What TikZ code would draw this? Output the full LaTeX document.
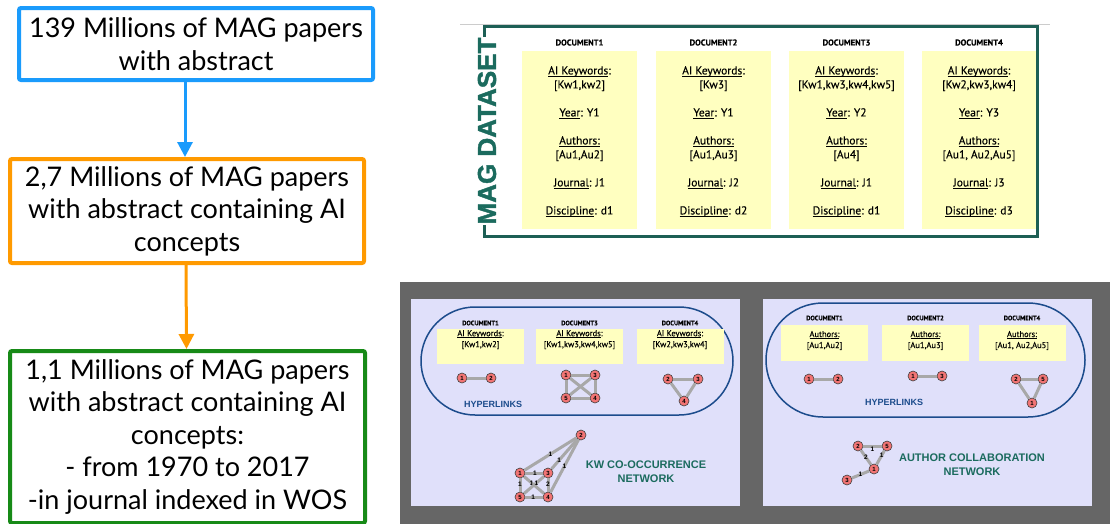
\documentclass[tikz,border=0pt]{standalone}
\usepackage{fontspec}
\setmainfont{Lato}
\newfontfamily\hfont{Liberation Sans}
\newfontfamily\magfont[BoldFeatures={FakeBold=1.6}]{Liberation Sans}
\newfontfamily\dfont[FakeBold=0.25]{PT Sans}
\newcommand{\myul}[1]{\underline{\smash{#1}}}
\usetikzlibrary{arrows.meta}
\definecolor{myblue}{HTML}{1A9BFC}
\definecolor{myorange}{HTML}{FF9A00}
\definecolor{mygreen}{HTML}{178A17}
\definecolor{tealframe}{HTML}{1D5F55}
\definecolor{tealtext}{HTML}{1B6B5E}
\definecolor{yel}{HTML}{FFFFC0}
\definecolor{lav}{HTML}{E0E0FA}
\definecolor{darkbg}{HTML}{666666}
\definecolor{hlblue}{HTML}{1C4C8C}
\definecolor{nodered}{HTML}{F27474}
\definecolor{edgegray}{HTML}{A8A8A8}
\begin{document}
\begin{tikzpicture}[x=1pt,y=-1pt,
  flowbox/.style={draw, line width=4pt, rounded corners=2pt, align=center, inner sep=0pt,
    font=\fontsize{27}{32.5}\selectfont},
  flowarrow/.style={line width=3pt, -{Triangle[length=15pt,width=15pt]}},
  docHead/.style={font=\dfont\bfseries\fontsize{8.5}{8.5}\selectfont, inner sep=0pt},
  colbox/.style={fill=yel, minimum width=115pt, minimum height=178pt, inner sep=0pt},
  coltext/.style={align=center, inner sep=0pt, font=\dfont\fontsize{11.5}{14}\selectfont},
  smallHead/.style={font=\dfont\bfseries\fontsize{6.5}{6.5}\selectfont, inner sep=0pt},
  smallbox/.style={fill=yel, minimum width=87pt, minimum height=35pt, inner sep=0pt},
  smalltext/.style={align=center, font=\dfont\fontsize{8.5}{11}\selectfont, inner sep=0pt},
  gn/.style={circle, draw=black!75, line width=0.6pt, fill=nodered, minimum size=10pt, inner sep=0pt,
    font=\hfont\bfseries\fontsize{6}{6}\selectfont},
  ge/.style={draw=edgegray, line width=3pt},
  elab/.style={font=\hfont\bfseries\fontsize{6.5}{6.5}\selectfont, inner sep=0pt},
  hyper/.style={font=\hfont\bfseries\fontsize{9}{9}\selectfont, text=hlblue, inner sep=0pt},
  netlab/.style={font=\hfont\bfseries\fontsize{11}{14}\selectfont, text=tealtext, align=center, inner sep=0pt},
  stadium/.style={draw=hlblue, line width=1.5pt}]
\useasboundingbox (0,0) rectangle (1116,523);
\fill[white] (0,0) rectangle (1116,523);

% ---------------- left flow ----------------
\node[flowbox, draw=myblue, minimum width=354pt, minimum height=72pt] (b1) at (196,44)
  {139 Millions of MAG papers\\with abstract};
\node[flowbox, draw=myorange, minimum width=354pt, minimum height=104pt] (b2) at (187,211)
  {2,7 Millions of MAG papers\\with abstract containing AI\\concepts};
\node[flowbox, draw=mygreen, minimum width=355pt, minimum height=172pt] (b3) at (187.5,437)
  {1,1 Millions of MAG papers\\with abstract containing AI\\concepts:\\- from 1970 to 2017\\-in journal indexed in WOS};
\draw[flowarrow, myblue] ([xshift=-11pt]b1.south) -- ([xshift=-2pt]b2.north);
\draw[flowarrow, myorange] ([xshift=-1pt]b2.south) -- ([xshift=-1pt]b3.north);

% ---------------- MAG dataset ----------------
\draw[black!20, line width=0.8pt] (460,24.5) -- (1050,24.5);
\node[colbox] (c1) at (579.5,140) {};
\node[colbox] (c2) at (713.5,140) {};
\node[colbox] (c3) at (846.5,140) {};
\node[colbox] (c4) at (979,140) {};
\node[coltext] (ct1) at (579.5,142.5) {\myul{AI Keywords}:\\{[Kw1,kw2]}\\[14pt]\myul{Year}: Y1\\[14pt]\myul{Authors:}\\{[Au1,Au2]}\\[14pt]\myul{Journal}: J1\\[14pt]\myul{Discipline}: d1};
\node[coltext] (ct2) at (713.5,142.5) {\myul{AI Keywords}:\\{[Kw3]}\\[14pt]\myul{Year}: Y1\\[14pt]\myul{Authors:}\\{[Au1,Au3]}\\[14pt]\myul{Journal}: J2\\[14pt]\myul{Discipline}: d2};
\node[coltext] (ct3) at (846.5,142.5) {\myul{AI Keywords}:\\{[Kw1,kw3,kw4,kw5]}\\[14pt]\myul{Year}: Y2\\[14pt]\myul{Authors:}\\{[Au4]}\\[14pt]\myul{Journal}: J1\\[14pt]\myul{Discipline}: d1};
\node[coltext] (ct4) at (979,142.5) {\myul{AI Keywords}:\\{[Kw2,kw3,kw4]}\\[14pt]\myul{Year}: Y3\\[14pt]\myul{Authors:}\\{[Au1, Au2,Au5]}\\[14pt]\myul{Journal}: J3\\[14pt]\myul{Discipline}: d3};
\node[docHead] (dh1) at (579.5,42.5) {DOCUMENT1};
\node[docHead] (dh2) at (713.5,42.5) {DOCUMENT2};
\node[docHead] (dh3) at (846.5,42.5) {DOCUMENT3};
\node[docHead] (dh4) at (979,42.5) {DOCUMENT4};
\draw[tealframe, line width=3pt] (484,37) -- (484,26) -- (1037.5,26) -- (1037.5,236) -- (484,236) -- (484,225);
\node[rotate=90, font=\magfont\bfseries\fontsize{26}{26}\selectfont, text=tealtext, inner sep=0pt] (mag) at (487,131) {MAG DATASET};

% ---------------- bottom panels ----------------
\fill[darkbg] (400,282) rectangle (1110,530);
\fill[lav] (411,299) rectangle (740,506);
\fill[lav] (763,299) rectangle (1092,506);

% KW panel
\node[stadium, rounded corners=54pt, minimum width=312pt, minimum height=108pt] (s1) at (577,361) {};
\node[smallHead] (kh1) at (480.5,323) {DOCUMENT1};
\node[smallHead] (kh3) at (579.5,323) {DOCUMENT3};
\node[smallHead] (kh4) at (680,323) {DOCUMENT4};
\node[smallbox] (ky1) at (480.5,346) {};
\node[smallbox] (ky3) at (579.5,346) {};
\node[smallbox] (ky4) at (680,346) {};
\node[smalltext] (kt1) at (480.5,340.5) {\myul{AI Keywords}:\\{[Kw1,kw2]}};
\node[smalltext] (kt3) at (579.5,340.5) {\myul{AI Keywords}:\\{[Kw1,kw3,kw4,kw5]}};
\node[smalltext] (kt4) at (680,340.5) {\myul{AI Keywords}:\\{[Kw2,kw3,kw4]}};
\node[hyper] (hl1) at (493,404) {HYPERLINKS};

\node[gn] (a1) at (462,378) {1};
\node[gn] (a2) at (491,378) {2};
\draw[ge] (a1) -- (a2);

\node[gn] (m1) at (566,375) {1};
\node[gn] (m3) at (595,375) {3};
\node[gn] (m5) at (566,398) {5};
\node[gn] (m4) at (595,398) {4};
\draw[ge] (m1) -- (m3);
\draw[ge] (m3) -- (m4);
\draw[ge] (m4) -- (m5);
\draw[ge] (m5) -- (m1);
\draw[ge] (m1) -- (m4);
\draw[ge] (m3) -- (m5);

\node[gn] (n2) at (668,379) {2};
\node[gn] (n3) at (698,379) {3};
\node[gn] (n4) at (684,401) {4};
\draw[ge] (n2) -- (n3);
\draw[ge] (n3) -- (n4);
\draw[ge] (n4) -- (n2);

\node[gn] (k1) at (520,473) {1};
\node[gn] (k3) at (548,473) {3};
\node[gn] (k5) at (520,497) {5};
\node[gn] (k4) at (548,497) {4};
\node[gn] (k2) at (581,435) {2};
\draw[ge] (k1) -- node[elab, pos=.5] {1} (k2);
\draw[ge] (k3) -- node[elab, pos=.3] {1} (k2);
\draw[ge] (k4) -- node[elab, pos=.5] {1} (k2);
\draw[ge] (k1) -- node[elab, pos=.55] {1} (k3);
\draw[ge] (k1) -- node[elab, pos=.45] {1} (k5);
\draw[ge] (k1) -- node[elab, pos=.38] {1} (k4);
\draw[ge] (k3) -- node[elab, pos=.38] {1} (k5);
\draw[ge] (k3) -- node[elab, pos=.45] {2} (k4);
\draw[ge] (k5) -- node[elab, pos=.45] {1} (k4);
\node[netlab] (kwl) at (646,472) {KW CO-OCCURRENCE\\NETWORK};

% Author panel
\node[stadium, rounded corners=57pt, minimum width=319pt, minimum height=114pt] (s2) at (925.5,360) {};
\node[smallHead] (ah1) at (824.5,318) {DOCUMENT1};
\node[smallHead] (ah2) at (925.5,318) {DOCUMENT2};
\node[smallHead] (ah4) at (1022,318) {DOCUMENT4};
\node[smallbox, minimum height=36pt] (ay1) at (824.5,343) {};
\node[smallbox, minimum height=36pt] (ay2) at (925.5,343) {};
\node[smallbox, minimum height=36pt] (ay4) at (1022,343) {};
\node[smalltext] (at1) at (824.5,343.5) {\myul{Authors:}\\{[Au1,Au2]}};
\node[smalltext] (at2) at (925.5,343.5) {\myul{Authors:}\\{[Au1,Au3]}};
\node[smalltext] (at4) at (1022,343.5) {\myul{Authors:}\\{[Au1, Au2,Au5]}};
\node[hyper] (hl2) at (894,402) {HYPERLINKS};

\node[gn] (p1) at (809,379) {1};
\node[gn] (p2) at (838,379) {2};
\draw[ge] (p1) -- (p2);

\node[gn] (q1) at (913,376) {1};
\node[gn] (q3) at (942,376) {3};
\draw[ge] (q1) -- (q3);

\node[gn] (r2) at (1016,379) {2};
\node[gn] (r5) at (1043,379) {5};
\node[gn] (r1) at (1032,403) {1};
\draw[ge] (r2) -- (r5);
\draw[ge] (r5) -- (r1);
\draw[ge] (r1) -- (r2);

\node[gn] (u2) at (858,446) {2};
\node[gn] (u5) at (887,446) {5};
\node[gn] (u1) at (874,469) {1};
\node[gn] (u3) at (847,480) {3};
\draw[ge] (u2) -- node[elab, pos=.5, yshift=-3pt] {1} (u5);
\draw[ge] (u2) -- node[elab, pos=.5] {2} (u1);
\draw[ge] (u5) -- node[elab, pos=.35] {1} (u1);
\draw[ge] (u3) -- node[elab, pos=.5] {1} (u1);
\node[netlab] (aul) at (972,465) {AUTHOR COLLABORATION\\NETWORK};
\end{tikzpicture}
\end{document}
